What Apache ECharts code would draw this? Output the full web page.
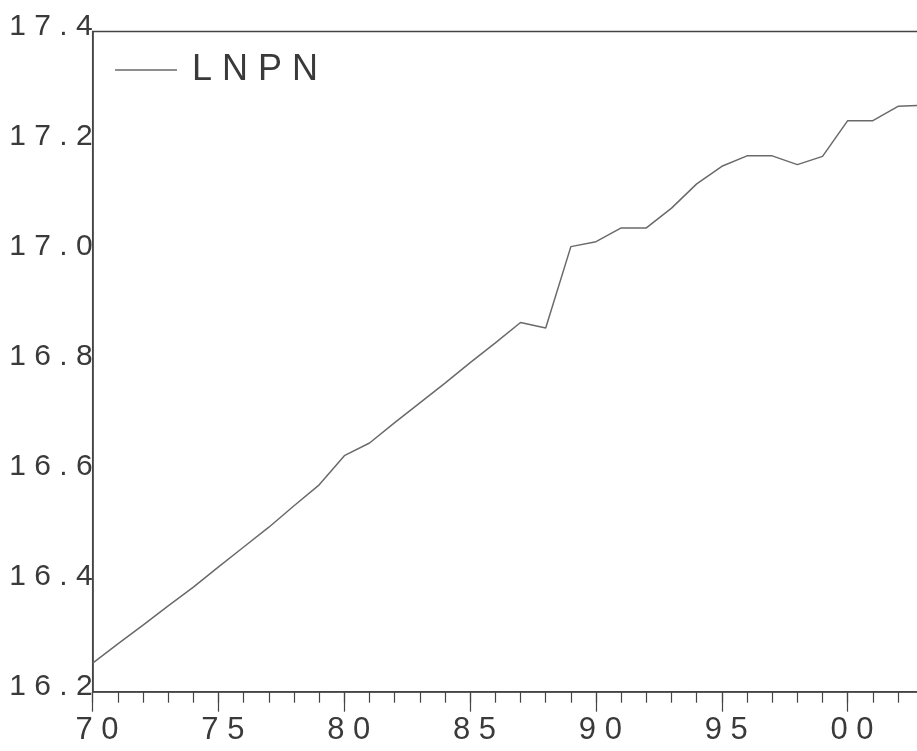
<!DOCTYPE html>
<html>
<head>
<meta charset="utf-8">
<script src="https://cdn.jsdelivr.net/npm/echarts@6/dist/echarts.min.js"></script>
<style>
  html, body { margin: 0; padding: 0; background: #fff; }
  #chart { width: 917px; height: 751px; }
</style>
</head>
<body>
<div id="chart"></div>
<script>
// Annual observations of LNPN (natural log), 1970-2003
const years = [1970, 1971, 1972, 1973, 1974, 1975, 1976, 1977, 1978, 1979,
               1980, 1981, 1982, 1983, 1984, 1985, 1986, 1987, 1988, 1989,
               1990, 1991, 1992, 1993, 1994, 1995, 1996, 1997, 1998, 1999,
               2000, 2001, 2002, 2003];
const lnpn = [16.252, 16.287, 16.321, 16.356, 16.390, 16.427, 16.463, 16.499, 16.538, 16.576,
              16.629, 16.652, 16.689, 16.725, 16.761, 16.798, 16.834, 16.871, 16.861, 17.009,
              17.018, 17.043, 17.043, 17.079, 17.123, 17.155, 17.174, 17.174, 17.158, 17.173,
              17.238, 17.238, 17.264, 17.266];
const seriesName = 'LNPN';
const yMin = 16.2, yMax = 17.4, yStep = 0.2;
const xMin = 1970, xMax = 2003;

// Letter-spaced text, e.g. "17.2" -> "1 7 . 2"
const spaced = s => String(s).split('').join(' ');

const FONT = '"Liberation Sans", Arial, Helvetica, sans-serif';
const INK = '#3a3a3a';
const AXIS = '#444';

const chart = echarts.init(document.getElementById('chart'), null, { renderer: 'canvas' });

chart.setOption({
  animation: false,
  backgroundColor: '#fff',
  textStyle: { fontFamily: FONT },
  grid: {
    left: 92.7, top: 31.5, bottom: 59.3, right: -6.2,
    outerBoundsMode: 'none', containLabel: false,
    show: true, borderColor: AXIS, borderWidth: 1.5, backgroundColor: 'transparent'
  },
  legend: {
    left: 110, top: 45,
    itemWidth: 62, itemHeight: 1.5, icon: 'rect',
    itemStyle: { color: '#6a6a6a' },
    formatter: n => ' ' + spaced(n),
    textStyle: { fontSize: 36, color: INK, fontFamily: FONT, lineHeight: 40 },
    data: [seriesName]
  },
  xAxis: [
    {
      // yearly minor ticks
      type: 'value', min: xMin, max: xMax, interval: 1, position: 'bottom',
      axisLine: { show: true, lineStyle: { color: AXIS, width: 1.5 } },
      axisTick: { show: true, inside: false, length: 11, lineStyle: { color: AXIS, width: 1.2 } },
      axisLabel: { show: false },
      splitLine: { show: false }
    },
    {
      // five-year major ticks with labels
      type: 'value', min: xMin, max: xMax, interval: 5, position: 'bottom', offset: 0,
      axisLine: { show: false },
      axisTick: { show: true, inside: false, length: 20, lineStyle: { color: AXIS, width: 1.2 } },
      axisLabel: {
        show: true, margin: 23, fontSize: 31, color: INK, fontFamily: FONT,
        formatter: v => (v % 5 === 0 ? ' ' + spaced(String(v % 100).padStart(2, '0')) : '')
      },
      splitLine: { show: false }
    }
  ],
  yAxis: {
    type: 'value', min: yMin, max: yMax, interval: yStep,
    axisLine: { show: true, lineStyle: { color: AXIS, width: 1.5 } },
    axisTick: { show: false },
    axisLabel: {
      margin: 0, fontSize: 30, color: INK, fontFamily: FONT,
      verticalAlign: 'bottom', lineHeight: 10,
      formatter: v => spaced(v.toFixed(1))
    },
    splitLine: { show: false }
  },
  series: [{
    name: seriesName,
    type: 'line',
    xAxisIndex: 0,
    data: years.map((y, i) => [y, lnpn[i]]),
    showSymbol: false,
    symbol: 'none',
    clip: true,
    lineStyle: { color: '#6a6a6a', width: 1.5 }
  }]
});
</script>
</body>
</html>
